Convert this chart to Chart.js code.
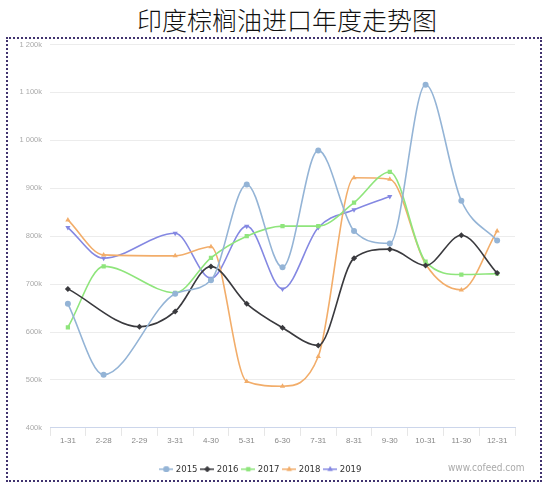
<!DOCTYPE html>
<html>
<head>
<meta charset="utf-8">
<script src="https://cdn.jsdelivr.net/npm/chart.js@4.4.1/dist/chart.umd.min.js"></script>
<style>
  body { margin: 0; background: #fff; width: 550px; height: 486px; position: relative; overflow: hidden; }
  #title { position: absolute; left: 0; top: 4px; width: 574px; text-align: center;
           font-family: "Noto Sans CJK SC", sans-serif; font-weight: 300; font-size: 25px; color: #111; line-height: 30px; }
  #frame { position: absolute; left: 6px; top: 37px; width: 532px; height: 441px;
           border: 2px dotted #41336f; }
  #box { position: absolute; left: 8px; top: 32px; width: 530px; height: 440px; }
  #credit { position: absolute; left: 448px; top: 462px; font-family: "Liberation Sans Narrow", "DejaVu Sans Condensed", sans-serif;
            font-size: 10px; color: #aaa; }
</style>
</head>
<body>
<div id="title">印度棕榈油进口年度走势图</div>
<div id="frame"></div>
<div id="box"><canvas id="chart"></canvas></div>
<div id="credit">www.cofeed.com</div>
<script>
const categories = ["1-31", "2-28", "2-29", "3-31", "4-30", "5-31", "6-30", "7-31", "8-31", "9-30", "10-31", "11-30", "12-31"];

// values in thousand tonnes
const y2015 = [659, 511, null, 680, 708, 908, 735, 979, 811, 785, 1116, 874, 791];
const y2016 = [690, null, 611, 643, 737, 659, 609, 572, 754, 773, 739, 802, 723];
const y2017 = [610, 737, null, 682, 755, 800, 821, 821, 870, 934, 747, 720, 722];
const y2018 = [834, 761, null, 759, 778, 497, 487, 549, 922, 919, 742, 688, 811];
const y2019 = [818, 754, null, 806, 712, 821, 690, 818, 855, 883, null, null, null];

const yTicks = [400, 500, 600, 700, 800, 900, 1000, 1100, 1200];
const yTickLabels = ["400k", "500k", "600k", "700k", "800k", "900k", "1 000k", "1 100k", "1 200k"];

const years = ["2015", "2016", "2017", "2018", "2019"];
const colors = ["#94b4d6", "#3a3a3e", "#8fe57c", "#f2ad6a", "#8488e2"];
const markers = ["circle", "rectRot", "rect", "triangle", "triangle"];
const rotations = [0, 0, 0, 0, 180];
const series = [y2015, y2016, y2017, y2018, y2019];

function legendIcon(i) {
    const c = document.createElement("canvas");
    c.width = 14; c.height = 8;
    const g = c.getContext("2d");
    g.strokeStyle = colors[i];
    g.lineWidth = 1.5;
    g.beginPath(); g.moveTo(0, 4); g.lineTo(14, 4); g.stroke();
    g.fillStyle = colors[i];
    Chart.helpers.drawPoint(g, { pointStyle: markers[i], radius: 3, rotation: rotations[i], borderWidth: 0 }, 7, 4);
    g.fill();
    return c;
}

// push the legend a bit lower, away from the x labels
const legendShift = {
    id: "legendShift",
    afterLayout(chart) {
        chart.legend.top += 14;
        chart.legend.bottom += 14;
    }
};

const datasets = years.map((y, i) => ({
    label: y,
    data: series[i],
    borderColor: colors[i],
    backgroundColor: colors[i],
    borderWidth: 1.6,
    pointStyle: markers[i],
    pointRotation: rotations[i],
    pointRadius: 3,
    pointBorderWidth: 0,
    cubicInterpolationMode: "monotone",
    spanGaps: true
}));

new Chart(document.getElementById("chart"), {
    type: "line",
    data: { labels: categories, datasets: datasets },
    plugins: [legendShift],
    options: {
        responsive: true,
        maintainAspectRatio: false,
        animation: false,
        layout: { padding: { left: 0, right: 23, top: 2, bottom: 2 } },
        plugins: {
            tooltip: { enabled: false },
            legend: {
                position: "bottom",
                labels: {
                    usePointStyle: true,
                    boxHeight: 8,
                    padding: 5,
                    color: "#333",
                    font: { family: "Liberation Sans Narrow, DejaVu Sans Condensed, sans-serif", size: 9.5 },
                    generateLabels(chart) {
                        const items = Chart.defaults.plugins.legend.labels.generateLabels(chart);
                        items.forEach((it, i) => { it.pointStyle = legendIcon(i); });
                        return items;
                    }
                }
            }
        },
        scales: {
            x: {
                offset: true,
                border: { color: "#ccd6eb" },
                grid: { drawOnChartArea: false, offset: true, tickLength: 8, color: "#e6e6e6" },
                ticks: { color: "#888", font: { family: "Liberation Sans Narrow, sans-serif", size: 8 }, maxRotation: 0, padding: 0 }
            },
            y: {
                min: 400,
                max: 1200,
                afterBuildTicks: (s) => { s.ticks = yTicks.map(v => ({ value: v })); },
                afterFit: (s) => { s.width = 42; },
                border: { display: false },
                grid: { color: "#ececec", drawTicks: false },
                ticks: {
                    color: "#aaa",
                    padding: 8,
                    font: { family: "Liberation Sans Narrow, sans-serif", size: 7.5 },
                    callback: (v) => yTickLabels[yTicks.indexOf(v)]
                }
            }
        }
    }
});
</script>
</body>
</html>
